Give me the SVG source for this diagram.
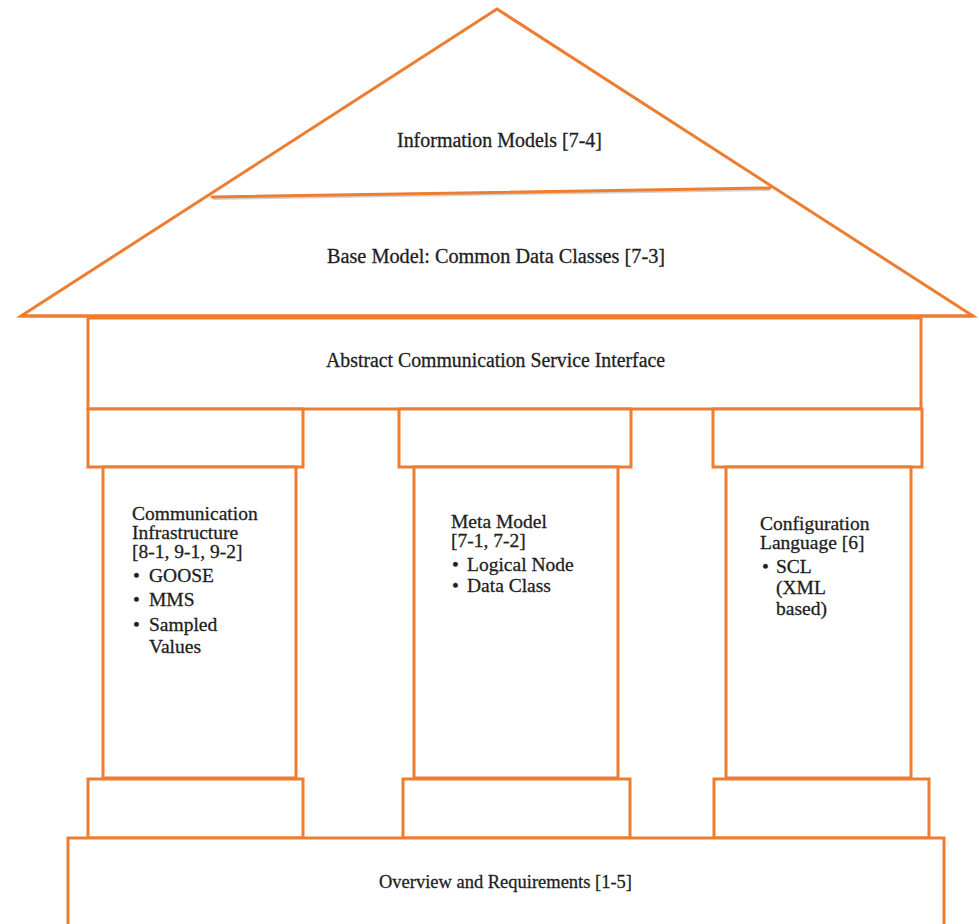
<svg xmlns="http://www.w3.org/2000/svg" width="979" height="924" viewBox="0 0 979 924">
  <style>
    .edge { fill: #ffffff; stroke: #ED7D31; stroke-width: 3; }
    .line { fill: none; stroke: #ED7D31; stroke-width: 3; stroke-linecap: round; }
    text { font-family: "Liberation Serif", Tinos, "Times New Roman", "DejaVu Serif", serif; fill: #1e1e1e; stroke: #1e1e1e; stroke-width: 0.3; }
    .title { font-size: 20px; }
    .body { font-size: 19.5px; }
  </style>
  <rect x="0" y="0" width="979" height="924" fill="#ffffff"/>

  <!-- roof: outer gable with the inner dividing line -->
  <g id="roof">
    <polygon class="edge" points="497,9 21,316 973,316"/>
    <line x1="213" y1="199" x2="770" y2="190" stroke="#b9b2ab" stroke-width="2" opacity="0.6"/>
    <line class="line" x1="212" y1="197" x2="770" y2="188"/>
    <line class="line" x1="21" y1="316" x2="973" y2="316" stroke-width="4"/>
  </g>

  <g id="information-models">
    <text class="title" x="397" y="147" textLength="205" lengthAdjust="spacingAndGlyphs">Information Models [7-4]</text>
  </g>

  <g id="base-model">
    <text class="title" x="327" y="263" textLength="338" lengthAdjust="spacingAndGlyphs">Base Model: Common Data Classes [7-3]</text>
  </g>

  <!-- architrave -->
  <g id="acsi">
    <rect class="edge" x="88" y="318" width="833" height="91"/>
    <text class="title" x="326" y="367" textLength="339" lengthAdjust="spacingAndGlyphs">Abstract Communication Service Interface</text>
  </g>

  <!-- left pillar -->
  <g id="communication-infrastructure">
    <rect class="edge" x="88" y="409" width="215" height="58"/>
    <rect class="edge" x="103" y="467" width="193" height="311"/>
    <rect class="edge" x="88" y="779" width="215" height="59"/>
    <text class="body" x="132" y="520">Communication</text>
    <text class="body" x="132" y="539">Infrastructure</text>
    <text class="body" x="132" y="558">[8-1, 9-1, 9-2]</text>
    <text class="body" x="133" y="582">•</text>
    <text class="body" x="149" y="582">GOOSE</text>
    <text class="body" x="133" y="606">•</text>
    <text class="body" x="149" y="606">MMS</text>
    <text class="body" x="133" y="631">•</text>
    <text class="body" x="149" y="631">Sampled</text>
    <text class="body" x="149" y="653">Values</text>
  </g>

  <!-- middle pillar -->
  <g id="meta-model">
    <rect class="edge" x="399" y="409" width="232" height="58"/>
    <rect class="edge" x="414" y="467" width="204" height="311"/>
    <rect class="edge" x="403" y="779" width="227" height="59"/>
    <text class="body" x="451" y="528">Meta Model</text>
    <text class="body" x="451" y="547">[7-1, 7-2]</text>
    <text class="body" x="452" y="571">•</text>
    <text class="body" x="467" y="571">Logical Node</text>
    <text class="body" x="452" y="592">•</text>
    <text class="body" x="467" y="592">Data Class</text>
  </g>

  <!-- right pillar -->
  <g id="configuration-language">
    <rect class="edge" x="713" y="409" width="209" height="58"/>
    <rect class="edge" x="726" y="467" width="185" height="311"/>
    <rect class="edge" x="714" y="779" width="215" height="59"/>
    <text class="body" x="760" y="530">Configuration</text>
    <text class="body" x="760" y="549">Language [6]</text>
    <text class="body" x="762" y="573">•</text>
    <text class="body" x="776" y="573">SCL</text>
    <text class="body" x="776" y="594">(XML</text>
    <text class="body" x="776" y="615">based)</text>
  </g>

  <!-- foundation -->
  <g id="overview">
    <rect class="edge" x="68" y="838" width="876" height="100"/>
    <text class="title" x="379" y="888" textLength="253" lengthAdjust="spacingAndGlyphs" style="font-size:19px">Overview and Requirements [1-5]</text>
  </g>
</svg>
